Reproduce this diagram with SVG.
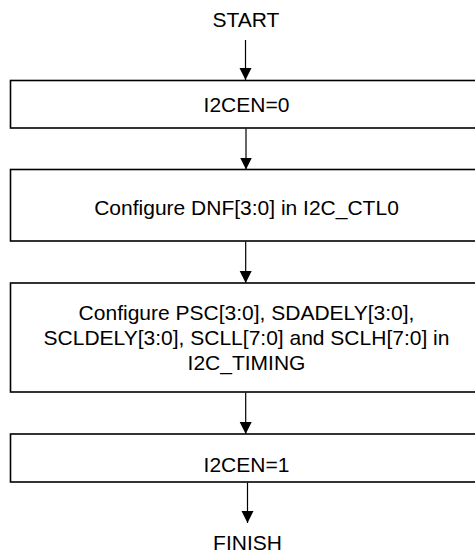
<svg xmlns="http://www.w3.org/2000/svg" width="475" height="553" viewBox="0 0 475 553">
<defs>
<style>
.box{fill:#fff;stroke:#000;stroke-width:1.6}
.t{font-family:"Liberation Sans",Arial,sans-serif;font-size:21px;fill:#000;text-anchor:middle}
.c{stroke:#000;stroke-width:1.2;fill:none}
</style>
<marker id="ah" markerWidth="12" markerHeight="13" refX="12" refY="6" orient="auto" markerUnits="userSpaceOnUse" viewBox="0 0 12 12">
<path d="M0,0 L12,6 L0,12 Z" fill="#000"/>
</marker>
</defs>
<rect width="475" height="553" fill="#fff"/>
<g id="start"><text class="t" x="246" y="27">START</text></g>
<g id="n1"><rect class="box" x="10.5" y="80.5" width="474" height="47.5"/><text class="t" x="246.5" y="111.5">I2CEN=0</text></g>
<g id="n2"><rect class="box" x="10.5" y="169.5" width="474" height="71.5"/><text class="t" x="246.5" y="215">Configure DNF[3:0] in I2C_CTL0</text></g>
<g id="n3"><rect class="box" x="10.5" y="283" width="474" height="109"/><text class="t" x="246.5" y="320">Configure PSC[3:0], SDADELY[3:0],</text><text class="t" x="246.5" y="345">SCLDELY[3:0], SCLL[7:0] and SCLH[7:0] in</text><text class="t" x="246.5" y="370">I2C_TIMING</text></g>
<g id="n4"><rect class="box" x="10.5" y="434" width="474" height="48"/><text class="t" x="246.5" y="471.5">I2CEN=1</text></g>
<g id="finish"><text class="t" x="247.5" y="550">FINISH</text></g>
<g id="connectors">
<line class="c" x1="245.5" y1="40" x2="245.5" y2="80" marker-end="url(#ah)"/>
<line class="c" x1="246" y1="128.5" x2="246" y2="169.5" marker-end="url(#ah)"/>
<line class="c" x1="245.7" y1="241.5" x2="245.7" y2="283" marker-end="url(#ah)"/>
<line class="c" x1="245.7" y1="392.5" x2="245.7" y2="434" marker-end="url(#ah)"/>
<line class="c" x1="247.5" y1="482.5" x2="247.5" y2="523" marker-end="url(#ah)"/>
</g>
</svg>
